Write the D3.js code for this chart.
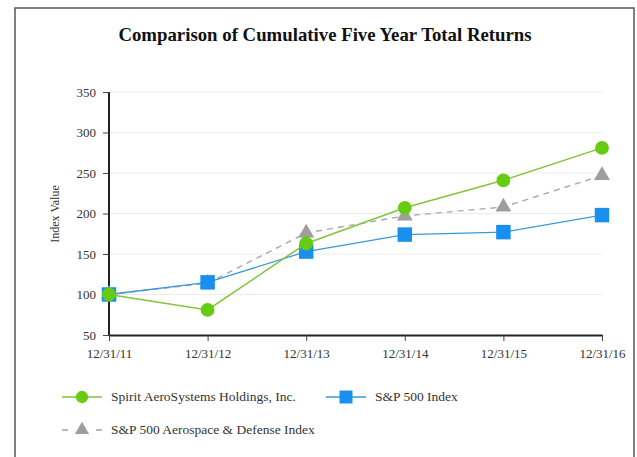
<!DOCTYPE html>
<html>
<head>
<meta charset="utf-8">
<script src="https://cdn.jsdelivr.net/npm/d3@7"></script>
<style>
  body { margin: 0; background: #fff; }
  svg { display: block; }
</style>
</head>
<body>
<svg id="chart"></svg>
<script>
const dates = ["12/31/11", "12/31/12", "12/31/13", "12/31/14", "12/31/15", "12/31/16"];
const spirit = [100, 81, 163, 207, 241, 281];
const sp500 = [100, 115, 153, 174, 177, 198];
const aerodef = [100, 114, 176, 197, 208, 247];
const yTicks = [50, 100, 150, 200, 250, 300, 350];

const width = 637, height = 457;
const margin = {top: 92, left: 109, right: 602, bottom: 335};

let svg = d3.select("#chart")
  .attr("width", width)
  .attr("height", height);

// outer frame
svg.append("rect")
  .attr("x", 15).attr("y", 8)
  .attr("width", 619).attr("height", 470)
  .style("fill", "none")
  .style("stroke", "#555")
  .style("stroke-width", 1.5);

svg.append("text")
  .attr("x", 325).attr("y", 41)
  .attr("text-anchor", "middle")
  .style("font-family", "Liberation Serif")
  .style("font-weight", "bold")
  .style("font-size", "18.8px")
  .style("fill", "#111")
  .text("Comparison of Cumulative Five Year Total Returns");

let xScale = d3.scalePoint()
  .domain(dates)
  .range([margin.left, margin.right]);
let yScale = d3.scaleLinear()
  .domain([50, 350])
  .range([margin.bottom, margin.top]);

// gridlines
svg.selectAll("line.grid")
  .data(yTicks.slice(1))
  .enter().append("line")
  .attr("class", "grid")
  .attr("x1", margin.left)
  .attr("x2", margin.right)
  .attr("y1", (d) => yScale(d))
  .attr("y2", (d) => yScale(d))
  .style("stroke", "#ececec")
  .style("stroke-width", 1);

let yAxis = svg.append("g")
  .attr("transform", "translate(" + margin.left + ",0)")
  .call(d3.axisLeft(yScale).tickValues(yTicks).tickSize(6).tickPadding(7));
let xAxis = svg.append("g")
  .attr("transform", "translate(0," + margin.bottom + ")")
  .call(d3.axisBottom(xScale).tickSize(6).tickPadding(8).tickSizeOuter(0));

[xAxis, yAxis].forEach(function(ax) {
  ax.select(".domain").style("stroke", "#222").style("stroke-width", 2);
  ax.selectAll(".tick line").style("stroke", "#444");
  ax.selectAll("text")
    .style("font-family", "Liberation Serif")
    .style("font-size", "13px")
    .style("fill", "#333");
});
yAxis.select(".domain").attr("d", "M0," + margin.bottom + "V" + margin.top);

svg.append("text")
  .attr("transform", "translate(59,214) rotate(-90)")
  .attr("text-anchor", "middle")
  .style("font-family", "Liberation Serif")
  .style("font-size", "12px")
  .style("fill", "#333")
  .text("Index Value");

const series = [
  {name: "S&P 500 Aerospace & Defense Index", values: aerodef, line: "#a8a8a8", fill: "#9e9e9e", dash: "6,5", shape: d3.symbolTriangle, size: 110, w: 1.4},
  {name: "S&P 500 Index", values: sp500, line: "#3a9ad9", fill: "#1a90ee", dash: null, shape: d3.symbolSquare, size: 210, w: 1.3},
  {name: "Spirit AeroSystems Holdings, Inc.", values: spirit, line: "#82c43a", fill: "#66cc11", dash: null, shape: d3.symbolCircle, size: 150, w: 1.5}
];

let line = d3.line()
  .x((d, i) => xScale(dates[i]))
  .y((d) => yScale(d));

series.forEach(function(s) {
  svg.append("path")
    .attr("d", line(s.values))
    .style("fill", "none")
    .style("stroke", s.line)
    .style("stroke-width", s.w)
    .style("stroke-dasharray", s.dash);
  svg.selectAll(null)
    .data(s.values)
    .enter().append("path")
    .attr("d", d3.symbol().type(s.shape).size(s.size))
    .attr("transform", (d, i) => "translate(" + xScale(dates[i]) + "," + yScale(d) + ")")
    .style("fill", s.fill);
});

// legend
const legendItems = [
  {s: series[2], x: 62, y: 397},
  {s: series[1], x: 326, y: 397},
  {s: series[0], x: 62, y: 430}
];
legendItems.forEach(function(l) {
  let g = svg.append("g").attr("transform", "translate(" + l.x + "," + l.y + ")");
  let segs = l.s.dash ? [[0, 6], [34, 40]] : [[0, 40]];
  segs.forEach(function(sg) {
    g.append("line")
      .attr("x1", sg[0]).attr("x2", sg[1])
      .style("stroke", l.s.line)
      .style("stroke-width", 1.6);
  });
  g.append("path")
    .attr("d", d3.symbol().type(l.s.shape).size(l.s.size * 0.8))
    .attr("transform", "translate(20,0)")
    .style("fill", l.s.fill);
  g.append("text")
    .attr("x", 49).attr("dy", "0.33em")
    .style("font-family", "Liberation Serif")
    .style("font-size", "13.5px")
    .style("fill", "#333")
    .text(l.s.name);
});
</script>
</body>
</html>
